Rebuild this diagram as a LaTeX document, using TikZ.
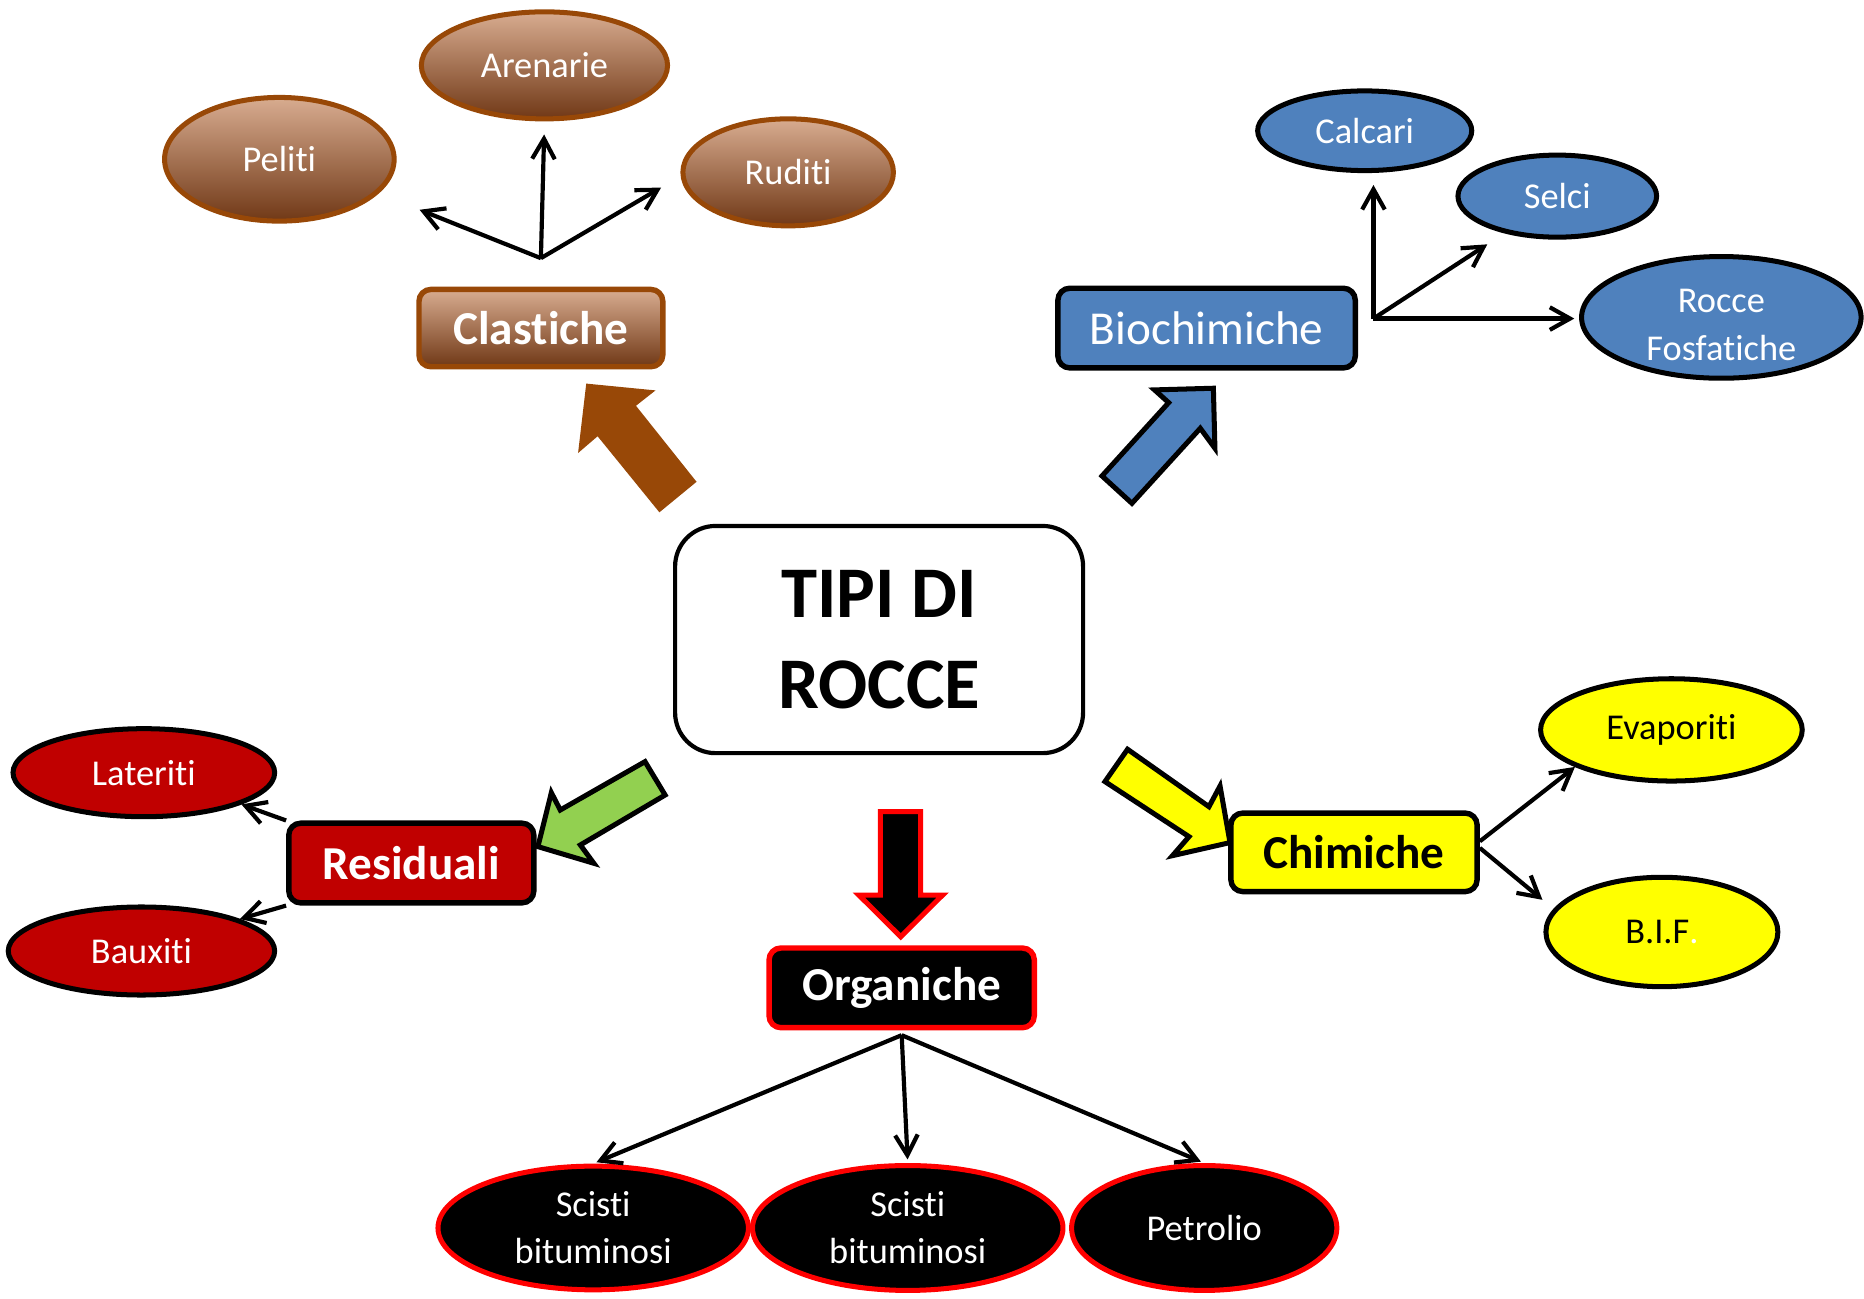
\documentclass[tikz,border=0pt]{standalone}
\usepackage{fontspec}
\setmainfont{Carlito}[Ligatures={NoCommon,NoRequired,NoContextual}]
\usetikzlibrary{shapes.geometric,arrows.meta}
\definecolor{brline}{RGB}{152,72,7}
\definecolor{brtop}{RGB}{216,172,144}
\definecolor{brmid}{RGB}{200,124,70}
\definecolor{brbot}{RGB}{112,56,22}
\definecolor{rockblue}{RGB}{79,129,189}
\definecolor{rockred}{RGB}{192,0,0}
\definecolor{rockgreen}{RGB}{146,208,80}
\definecolor{rockyellow}{RGB}{255,255,0}
\begin{document}
\begin{tikzpicture}[x=0.01cm,y=-0.01cm,
    ell/.style={ellipse,draw,line width=1.2pt,inner sep=0pt,align=center,
        font=\fontsize{8.7}{11.3}\selectfont},
    box/.style={rectangle,rounded corners=0.1cm,draw,line width=1.3pt,inner sep=0pt,
        font=\fontsize{11.3}{13}\selectfont},
    boldbox/.style={box,font=\fontsize{11.3}{13}\selectfont\bfseries},
    brownfill/.style={top color=brtop,middle color=brmid,bottom color=brbot,draw=brline,text=white},
    bluefill/.style={fill=rockblue,draw=black,text=white},
    redfill/.style={fill=rockred,draw=black,text=white},
    yellowfill/.style={fill=rockyellow,draw=black,text=black},
    blackfill/.style={fill=black,draw=red,text=white},
    link/.style={-{Straight Barb[length=1.7mm,width=1.9mm]},line width=1pt},
    fat/.style={line width=1.2pt,line join=miter}]
    \useasboundingbox (0,0) rectangle (1568,1092);

    % centre
    \node[draw,rounded corners=0.34cm,line width=1pt,minimum width=3.43cm,minimum height=1.91cm,
        align=center,font=\fontsize{17.4}{21.9}\selectfont\bfseries] (tipi) at (739.5,538) {TIPI DI\\ROCCE};

    % clastiche
    \node[boldbox,brownfill,draw=brline,minimum width=2.05cm,minimum height=0.65cm] (clast) at (455,276) {Clastiche};
    \node[ell,brownfill,minimum width=1.93cm,minimum height=1.04cm] (peliti) at (235,134) {Peliti};
    \node[ell,brownfill,minimum width=2.07cm,minimum height=0.90cm] (arenarie) at (458,55) {Arenarie};
    \node[ell,brownfill,minimum width=1.77cm,minimum height=0.90cm] (ruditi) at (663,145) {Ruditi};
    \coordinate (cj) at ([yshift=0.24cm]clast.north);
    \draw[link,shorten >=0.37cm] (cj) -- (peliti.-19);
    \draw[link,shorten >=0.11cm] (cj) -- (arenarie.south);
    \draw[link,shorten >=0.19cm] (cj) -- (ruditi.182);
    \filldraw[fat,fill=brline,draw=brline] (495,325) -- (546,330) -- (532,341) -- (583,405)
        -- (555,428) -- (503,364) -- (489,376) -- cycle;

    % biochimiche
    \node[box,bluefill,minimum width=2.5cm,minimum height=0.67cm] (bio) at (1015,276) {Biochimiche};
    \node[ell,bluefill,minimum width=1.80cm,minimum height=0.67cm] (calcari) at (1148,110) {Calcari};
    \node[ell,bluefill,minimum width=1.67cm,minimum height=0.69cm] (selci) at (1310,165) {Selci};
    \node[ell,bluefill,minimum width=2.35cm,minimum height=1.00cm] (rocce) at (1448,267) {\\[-0.5ex]Rocce\\Fosfatiche};
    \coordinate (bj) at ([xshift=0.13cm,yshift=0.08cm]bio.east);
    \draw[link,shorten >=0.1cm] (bj) -- (bj |- calcari.south);
    \draw[link,shorten >=0.17cm] (bj) -- (selci.215);
    \draw[link,shorten >=0.04cm] (bj) -- (bj -| rocce.west);
    \filldraw[fat,fill=rockblue] (1020.7,326.6) -- (971.2,328) -- (983.1,338.7) -- (927,400.4)
        -- (952.2,423.4) -- (1009.7,360.3) -- (1022,377.1) -- cycle;

    % residuali
    \node[boldbox,redfill,minimum width=2.06cm,minimum height=0.67cm] (resid) at (346,726) {Residuali};
    \node[ell,redfill,minimum width=2.20cm,minimum height=0.74cm] (lateriti) at (121,650) {Lateriti};
    \node[ell,redfill,minimum width=2.24cm,minimum height=0.74cm] (bauxiti) at (119,800) {Bauxiti};
    \draw[link] (resid.north west) -- (lateriti.-18);
    \draw[link] (resid.south west) -- (bauxiti.18);
    \filldraw[fat,fill=rockgreen] (452.5,712.2) -- (463.8,666.8) -- (471.3,681.4) -- (542.6,640.7)
        -- (559.5,668.8) -- (488.2,710.8) -- (499.5,726.2) -- cycle;

    % chimiche
    \node[boldbox,yellowfill,minimum width=2.07cm,minimum height=0.66cm] (chim) at (1139,717) {Chimiche};
    \node[ell,yellowfill,minimum width=2.20cm,minimum height=0.86cm] (evap) at (1406,614) {Evaporiti};
    \node[ell,yellowfill,minimum width=1.95cm,minimum height=0.92cm] (bif) at (1398,784) {B.I.F\textcolor{white}{.}};
    \draw[link] (chim.5) -- (evap.201);
    \draw[link,shorten >=0.12cm] (chim.2) -- (bif.168);
    \filldraw[fat,fill=rockyellow] (948.5,630.3) -- (1017,678.6) -- (1026.3,661.2) -- (1034.7,708.8)
        -- (986.3,719.8) -- (1000.2,703.8) -- (929.5,657.5) -- cycle;

    % organiche
    \node[boldbox,blackfill,minimum width=2.23cm,minimum height=0.67cm] (org) at (758.5,831) {Organiche};
    \node[ell,blackfill,minimum width=2.61cm,minimum height=1.04cm] (sci1) at (499,1033) {Scisti\\bituminosi};
    \node[ell,blackfill,minimum width=2.61cm,minimum height=1.05cm] (sci2) at (763.6,1033) {Scisti\\bituminosi};
    \node[ell,blackfill,minimum width=2.23cm,minimum height=1.05cm] (petr) at (1013,1033) {Petrolio};
    \coordinate (oj) at ([yshift=-0.04cm]org.south);
    \draw[link,shorten >=0.03cm] (oj) -- (sci1.north);
    \draw[link,shorten >=0.03cm] (oj) -- (sci2.north);
    \draw[link,shorten >=0.03cm] (oj) -- (petr.north);
    \filldraw[fat,fill=black,draw=red] (740.6,682.8) -- (774.4,682.8) -- (774.4,752.9) -- (793,752.9)
        -- (757.7,788) -- (722.4,752.9) -- (740.6,752.9) -- cycle;
\end{tikzpicture}
\end{document}
